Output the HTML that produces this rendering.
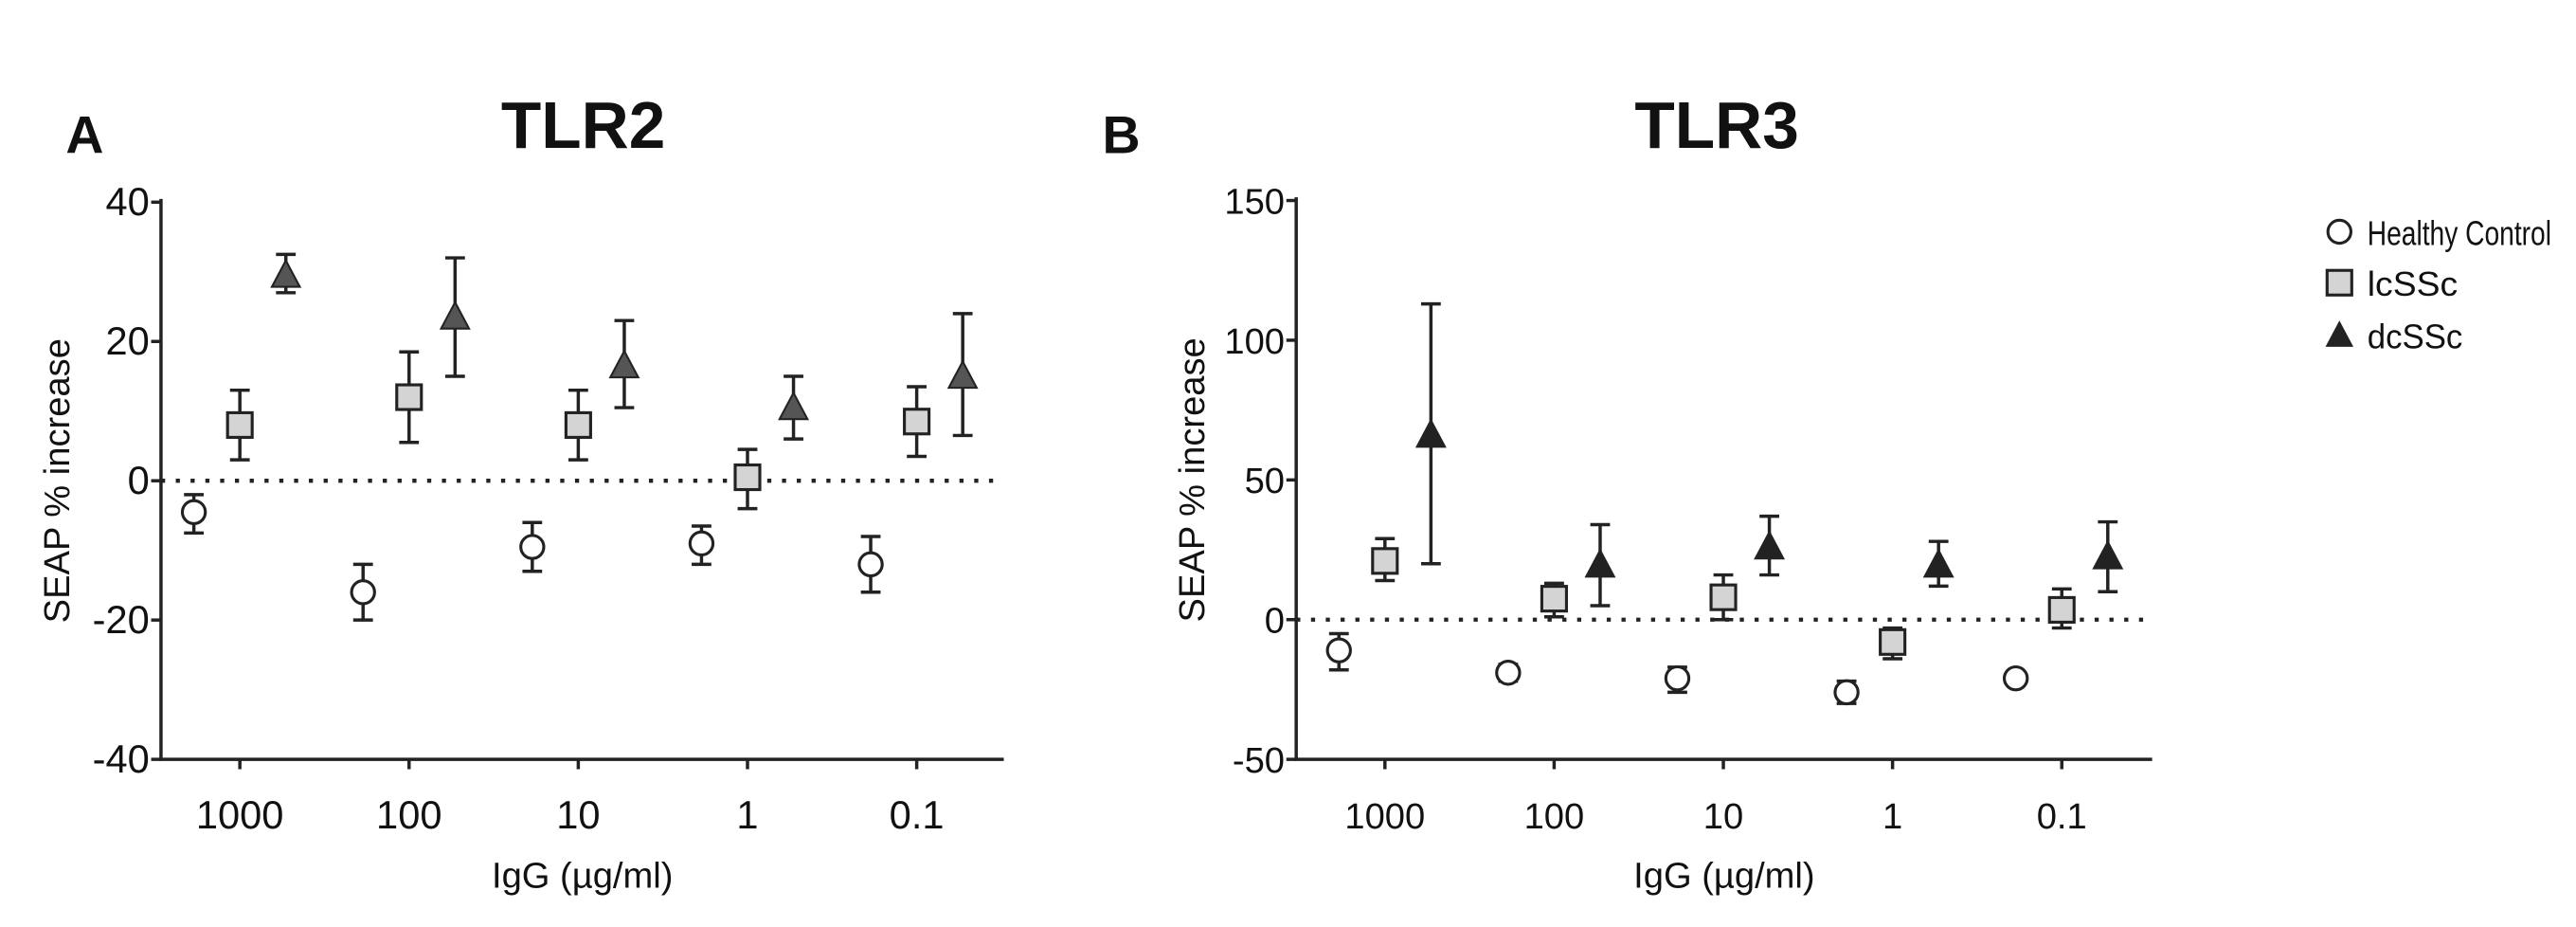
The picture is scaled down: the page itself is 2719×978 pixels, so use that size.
<!DOCTYPE html>
<html><head><meta charset="utf-8"><style>html,body{margin:0;padding:0;background:#fff}svg{display:block}text{font-family:"Liberation Sans",Arial,sans-serif;fill:#111}</style></head>
<body>
<svg id="fig" width="2719" height="978" viewBox="0 0 1568 564" preserveAspectRatio="none" xmlns="http://www.w3.org/2000/svg"></svg>
<script>
const categories = ["1000","100","10","1","0.1"];
const seriesNames = ["Healthy Control","lcSSc","dcSSc"];
// Panel A (TLR2): mean, low, high
const aHC = [-4.5,-16,-9.5,-9,-12];
const aHCLo = [-7.5,-20,-13,-12,-16];
const aHCHi = [-2,-12,-6,-6.5,-8];
const aLC = [8,12,8,0.5,8.5];
const aLCLo = [3,5.5,3,-4,3.5];
const aLCHi = [13,18.5,13,4.5,13.5];
const aDC = [29.5,23.5,16.5,10.5,15];
const aDCLo = [27,15,10.5,6,6.5];
const aDCHi = [32.5,32,23,15,24];
const aTicks = [40,20,0,-20,-40];
// Panel B (TLR3)
const bHC = [-11,-19,-21,-26,-21];
const bHCLo = [-18,-22,-26,-30,-21];
const bHCHi = [-5,-16,-17,-22,-21];
const bLC = [21,7.5,8,-8,3.5];
const bLCLo = [14,1,0,-14,-3];
const bLCHi = [29,13,16,-3,11];
const bDC = [66,19.5,26,19.5,22.5];
const bDCLo = [20,5,16,12,10];
const bDCHi = [113,34,37,28,35];
const bTicks = [150,100,50,0,-50];

const NS="http://www.w3.org/2000/svg";
const svg=document.getElementById('fig');
function mk(tag,attrs,parent){const e=document.createElementNS(NS,tag);for(const k in attrs)e.setAttribute(k,attrs[k]);(parent||svg).appendChild(e);return e;}

function panel(p){
  const g=mk('g',{});
  
  
  const ymin=p.ticks[p.ticks.length-1], ymax=p.ticks[0];
  const Y=v=>p.yTop+(ymax-v)/(ymax-ymin)*(p.yBot-p.yTop);
  const X=i=>p.x0+i*p.step;
  let t=mk('text',{x:p.titleX,y:90,'font-size':40,'font-weight':'bold','text-anchor':'middle'},g);t.textContent=p.title;
  
  
  t=mk('text',{x:p.letterX,y:93,'font-size':32,'font-weight':'bold'},g);t.textContent=p.letter;
  
  
  const ax=mk('path',{d:`M${p.axX},${p.yTop-2}V${p.yBot}H${p.axEnd}`,stroke:'#222','stroke-width':2,fill:'none'},g);
  
  
  p.ticks.forEach(v=>{
    mk('line',{x1:p.axX-6,x2:p.axX,y1:Y(v),y2:Y(v),stroke:'#222','stroke-width':2},g);
    const tx=mk('text',{x:p.axX-7,y:Y(v)+8,'font-size':p.tickFs,'text-anchor':'end'},g);tx.textContent=v;
    
    
  });
  categories.forEach((c,i)=>{
    mk('line',{x1:X(i),x2:X(i),y1:p.yBot,y2:p.yBot+6,stroke:'#222','stroke-width':2},g);
    const tx=mk('text',{x:X(i),y:p.yBot+42,'font-size':p.tickFs,'text-anchor':'middle'},g);tx.textContent=c;
    
    
  });
  const zl=mk('line',{x1:p.axX,x2:p.axEnd,y1:Y(0),y2:Y(0),stroke:'#222','stroke-width':2.5,'stroke-dasharray':'2.5 6.5'},g);
  
  
  t=mk('text',{x:0,y:0,'font-size':22,'text-anchor':'middle',transform:`translate(${p.axX-56},${(p.yTop+p.yBot)/2}) rotate(-90)`},g);t.textContent='SEAP % increase';
  
  
  t=mk('text',{x:(p.axX+p.axEnd)/2,y:540,'font-size':22,'text-anchor':'middle'},g);t.textContent='IgG (µg/ml)';
  
  
  const series=[[p.hc,p.hcLo,p.hcHi,-28,'circle'],[p.lc,p.lcLo,p.lcHi,0,'square'],[p.dc,p.dcLo,p.dcHi,28,'triangle']];
  series.forEach(([m,lo,hi,off,shape])=>{
    m.forEach((v,i)=>{
      const x=X(i)+off;
      if(hi[i]!==lo[i]){
        const eb=mk('path',{d:`M${x},${Y(lo[i])}V${Y(hi[i])}M${x-6},${Y(lo[i])}H${x+6}M${x-6},${Y(hi[i])}H${x+6}`,stroke:'#222','stroke-width':2,fill:'none'},g);
        
        
      }
      const y=Y(v);let mkEl;
      if(shape==='circle')mkEl=mk('circle',{cx:x,cy:y,r:7,fill:'#fff',stroke:'#222','stroke-width':1.8},g);
      else if(shape==='square')mkEl=mk('rect',{x:x-7.5,y:y-7.5,width:15,height:15,fill:'#d4d4d4',stroke:'#222','stroke-width':1.8},g);
      else mkEl=mk('path',{d:`M${x},${y-9}L${x+8.5},${y+7}L${x-8.5},${y+7}Z`,fill:p.triFill,stroke:'#222','stroke-width':1.2},g);
      
      
    });
  });
}
panel({id:'tlr2',title:'TLR2',letter:'A',titleX:355,letterX:40,axX:98,axEnd:611,yTop:123,yBot:462,x0:146,step:103,ticks:aTicks,tickFs:24,
  hc:aHC,hcLo:aHCLo,hcHi:aHCHi,lc:aLC,lcLo:aLCLo,lcHi:aLCHi,dc:aDC,dcLo:aDCLo,dcHi:aDCHi,triFill:'#555'});
panel({id:'tlr3',title:'TLR3',letter:'B',titleX:1045,letterX:671,axX:789,axEnd:1310,yTop:122,yBot:462,x0:843,step:103,ticks:bTicks,tickFs:22,
  hc:bHC,hcLo:bHCLo,hcHi:bHCHi,lc:bLC,lcLo:bLCLo,lcHi:bLCHi,dc:bDC,dcLo:bDCLo,dcHi:bDCHi,triFill:'#222'});
const lg=mk('g',{});


const ly=[141,172,204];
const lw=[112,55,58];
seriesNames.forEach((n,i)=>{
  const x=1424,y=ly[i];
  if(i===0)mk('circle',{cx:x,cy:y,r:7,fill:'#fff',stroke:'#222','stroke-width':1.8},lg);
  else if(i===1)mk('rect',{x:x-7.5,y:y-7.5,width:15,height:15,fill:'#d4d4d4',stroke:'#222','stroke-width':1.8},lg);
  else mk('path',{d:`M${x},${y-9}L${x+8.5},${y+7}L${x-8.5},${y+7}Z`,fill:'#222'},lg);
  const t=mk('text',{x:1441,y:y+8,'font-size':21,textLength:lw[i],lengthAdjust:'spacingAndGlyphs'},lg);t.textContent=n;
  
  
});
</script>
</body></html>
